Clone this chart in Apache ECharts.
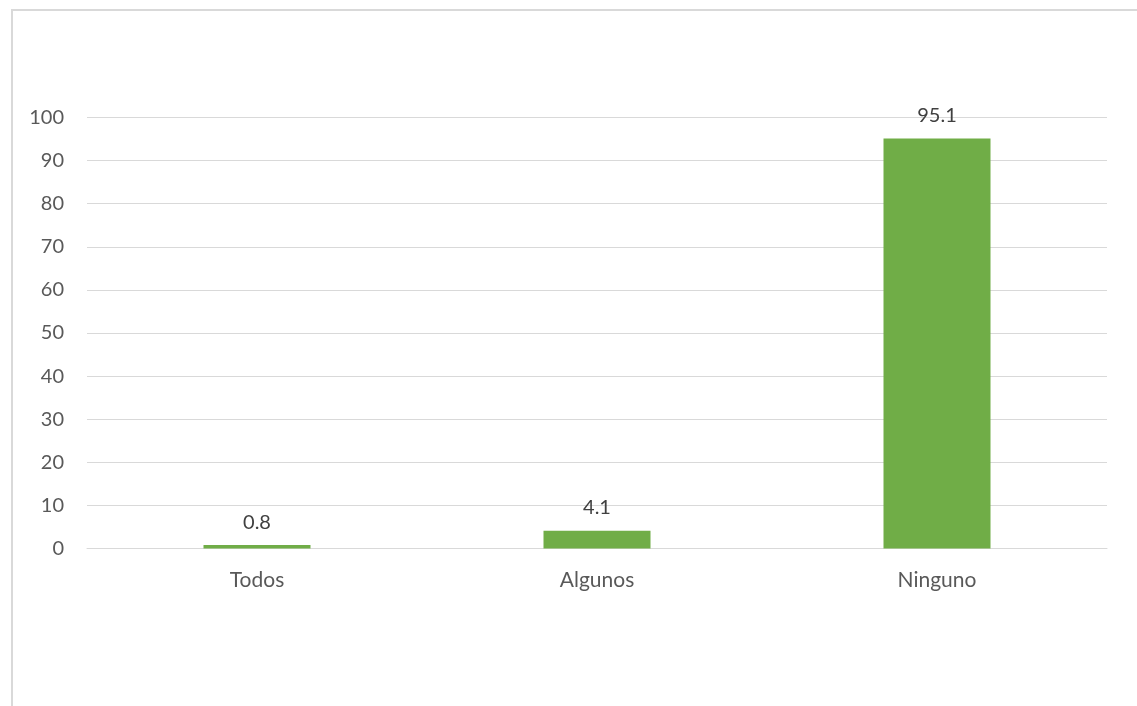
<!DOCTYPE html>
<html>
<head>
<meta charset="utf-8">
<script src="https://cdn.jsdelivr.net/npm/echarts@6/dist/echarts.min.js"></script>
<style>
  html, body { margin: 0; padding: 0; background: #ffffff; }
  #chart { width: 1137px; height: 706px; }
</style>
</head>
<body>
<div id="chart"></div>
<script>
// Categories and their percentages
const categories = ['Todos', 'Algunos', 'Ninguno'];
const values = [0.8, 4.1, 95.1];

// Value axis range
const yMin = 0;
const yMax = 100;
const yStep = 10;

const textColor = '#595959';
const gridColor = '#d9d9d9';
const fontFamily = 'Lato, "Liberation Sans", sans-serif';

const chart = echarts.init(document.getElementById('chart'), null, { renderer: 'canvas' });

chart.setOption({
  backgroundColor: '#ffffff',
  animation: false,
  textStyle: { fontFamily: fontFamily },
  graphic: [
    {
      type: 'polyline',
      shape: { points: [[12, 706], [12, 10], [1137, 10]] },
      style: { stroke: gridColor, lineWidth: 2, fill: null },
      silent: true
    }
  ],
  grid: {
    left: 87,
    right: 30,
    top: 117.5,
    bottom: 157.5,
    containLabel: false
  },
  xAxis: {
    type: 'category',
    data: categories,
    axisLine: { show: true, lineStyle: { color: gridColor, width: 1 } },
    axisTick: { show: false },
    axisLabel: {
      color: textColor,
      fontSize: 21,
      fontFamily: fontFamily,
      margin: 21
    },
    splitLine: { show: false }
  },
  yAxis: {
    type: 'value',
    min: yMin,
    max: yMax,
    interval: yStep,
    axisLine: { show: false },
    axisTick: { show: false },
    axisLabel: {
      color: textColor,
      fontSize: 20,
      fontFamily: fontFamily,
      margin: 23
    },
    splitLine: { show: true, lineStyle: { color: gridColor, width: 1 } }
  },
  series: [
    {
      type: 'bar',
      data: values,
      barWidth: 107,
      itemStyle: { color: '#70ad47' },
      label: {
        show: true,
        position: 'top',
        distance: 13,
        color: '#404040',
        fontSize: 20,
        fontFamily: fontFamily,
        formatter: function (p) { return p.value.toFixed(1); }
      }
    }
  ]
});
</script>
</body>
</html>
